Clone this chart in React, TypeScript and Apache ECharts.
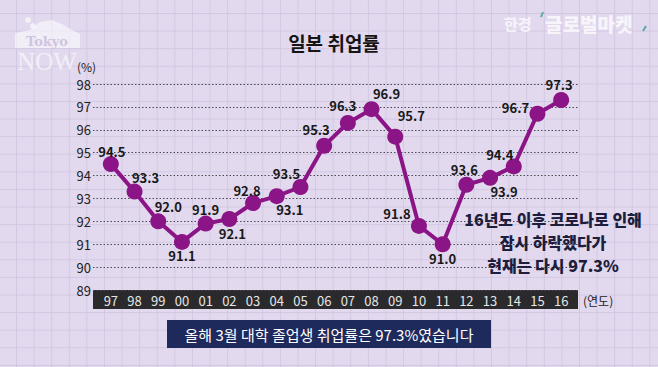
import React, { useEffect, useRef } from "react";
import * as echarts from "echarts";

const years = ["97", "98", "99", "00", "01", "02", "03", "04", "05", "06", "07", "08", "09", "10", "11", "12", "13", "14", "15", "16"];
const rates = [94.5, 93.3, 92.0, 91.1, 91.9, 92.1, 92.8, 93.1, 93.5, 95.3, 96.3, 96.9, 95.7, 91.8, 91.0, 93.6, 93.9, 94.4, 96.7, 97.3];
const yMin = 89;
const yMax = 98;
const labelOffsets = [
  [1, -13], [11, -14], [10, -15], [0, 14], [0, -14], [3, 14], [-6, -13], [13, 13], [-14, -14], [-8, -16],
  [-5, -17], [15, -16], [16, -21], [-22, -12], [0, 14], [-2, -15], [14, 14], [-14, -12], [-22, -6], [-2, -16],
];
const titleText = "일본 취업률";
const noteLines = ["16년도 이후 코로나로 인해", "잠시 하락했다가", "현재는 다시 97.3%"];
const captionText = "올해 3월 대학 졸업생 취업률은 97.3%였습니다";

const FONT = '"Noto Sans CJK KR", "Noto Sans", sans-serif';

export default function App() {
  const ref = useRef<HTMLDivElement>(null);

  useEffect(() => {
    if (!ref.current) return;
    const chart = echarts.init(ref.current, undefined, { renderer: "svg" });
    const option: any = {
      animation: false,
      backgroundColor: "transparent",
      textStyle: { fontFamily: FONT },
      title: {
        text: titleText,
        left: 329,
        textAlign: "center",
        top: 28,
        textStyle: { fontSize: 19, fontWeight: "bold", color: "#151515", fontFamily: FONT },
      },
      grid: [
        { left: 99, right: 85, top: 84, bottom: 77 },
        { left: 93, right: 80, top: 84, bottom: 77 },
      ],
      xAxis: [
        {
          type: "category",
          gridIndex: 0,
          data: years,
          boundaryGap: true,
          z: 10,
          axisLine: { show: false },
          axisTick: { show: false },
          axisLabel: { color: "#e6e6e6", fontSize: 13, margin: 4, fontFamily: FONT },
          splitLine: { show: false },
        },
        { type: "value", gridIndex: 1, show: false },
      ],
      yAxis: [
        { type: "value", gridIndex: 0, min: yMin, max: yMax, interval: 1, show: false },
        {
          type: "value",
          gridIndex: 1,
          min: yMin,
          max: yMax,
          interval: 1,
          axisLine: { show: false },
          axisTick: { show: false },
          axisLabel: { color: "#222", fontSize: 13, margin: 2, fontFamily: FONT },
          splitLine: { show: true, lineStyle: { color: "#4a4a55", type: [1.5, 2], width: 1 } },
        },
      ],
      series: [
        {
          type: "line",
          xAxisIndex: 0,
          yAxisIndex: 0,
          data: rates.map((v, i) => ({
            value: v,
            label: { offset: labelOffsets[i] },
          })),
          lineStyle: { color: "#8b1486", width: 4 },
          itemStyle: { color: "#8b1486" },
          symbol: "circle",
          symbolSize: 16,
          z: 5,
          label: {
            show: true,
            position: "inside",
            color: "#181818",
            fontSize: 13,
            fontWeight: "bold",
            fontFamily: FONT,
            formatter: (p: any) => Number(p.value).toFixed(1),
          },
        },
      ],
      graphic: [
        { type: "rect", z: 0, shape: { x: 93, y: 290, width: 485, height: 19 }, style: { fill: "#2a2a2c" } },
        { type: "text", z: 5, x: 583, y: 300, style: { text: "(연도)", fill: "#222", fontSize: 12, fontFamily: FONT, textVerticalAlign: "middle" } },
        { type: "text", z: 5, x: 77, y: 66, style: { text: "(%)", fill: "#222", fontSize: 12, fontFamily: FONT, textVerticalAlign: "middle" } },
        // caption
        { type: "rect", z: 0, shape: { x: 167, y: 320, width: 324, height: 28 }, style: { fill: "#1f2a5c" } },
        { type: "text", z: 5, x: 329, y: 334, style: { text: captionText, fill: "#ffffff", fontSize: 15, fontFamily: FONT, textAlign: "center", textVerticalAlign: "middle" } },
        // note
        ...noteLines.map((t, i) => ({
          type: "text",
          z: 6,
          x: 553,
          y: 218.5 + i * 23,
          style: {
            text: t,
            fill: "#1d1d3d",
            fontSize: 16,
            fontWeight: 900,
            fontFamily: FONT,
            textAlign: "center",
            textVerticalAlign: "middle",
          },
        })),
        // Tokyo NOW logo
        {
          type: "polygon",
          z: 1,
          shape: { points: [[15, 48], [15, 33], [30, 30], [40, 22], [52, 20], [62, 24], [72, 30], [80, 34], [80, 48]] },
          style: { fill: "rgba(255,255,255,0.55)" },
        },
        { type: "circle", z: 1, shape: { cx: 28, cy: 20, r: 3 }, style: { fill: "rgba(255,255,255,0.6)" } },
        { type: "circle", z: 1, shape: { cx: 33, cy: 26, r: 3 }, style: { fill: "rgba(255,255,255,0.6)" } },
        { type: "text", z: 2, x: 47, y: 41, style: { text: "Tokyo", fill: "#cfc3df", fontSize: 13, fontWeight: "bold", fontFamily: '"DejaVu Serif", serif', textAlign: "center", textVerticalAlign: "middle" } },
        { type: "text", z: 2, x: 47, y: 61, style: { text: "NOW", fill: "rgba(255,255,255,0.6)", fontSize: 25, fontFamily: '"Liberation Serif", serif', textAlign: "center", textVerticalAlign: "middle" } },
        // 한경 글로벌마켓 logo
        { type: "text", z: 2, x: 504, y: 23, style: { text: "한경", fill: "rgba(255,255,255,0.7)", fontSize: 15, fontWeight: 900, fontFamily: FONT, textVerticalAlign: "middle" } },
        { type: "line", z: 2, shape: { x1: 541, y1: 17, x2: 543, y2: 12 }, style: { stroke: "#5aa9a3", lineWidth: 2 } },
        { type: "text", z: 2, x: 545, y: 23, style: { text: "글로벌마켓", fill: "rgba(255,255,255,0.75)", fontSize: 19, fontWeight: 900, fontFamily: FONT, textVerticalAlign: "middle" } },
        { type: "line", z: 2, shape: { x1: 643, y1: 31, x2: 646, y2: 26 }, style: { stroke: "#5aa9a3", lineWidth: 2 } },
      ],
    };
    chart.setOption(option);
    return () => chart.dispose();
  }, []);

  const bg: React.CSSProperties = {
    position: "fixed",
    left: 0,
    top: 0,
    width: 658,
    height: 367,
    backgroundColor: "#e2d9ee",
    backgroundImage:
      "linear-gradient(to right, #d3c8e3 1px, transparent 1px), linear-gradient(to bottom, #d3c8e3 1px, transparent 1px)",
    backgroundSize: "17.6px 17.6px",
    backgroundPosition: "16px 13px",
  };

  return (
    <div style={bg}>
      <div ref={ref} style={{ width: 658, height: 367 }} />
    </div>
  );
}
